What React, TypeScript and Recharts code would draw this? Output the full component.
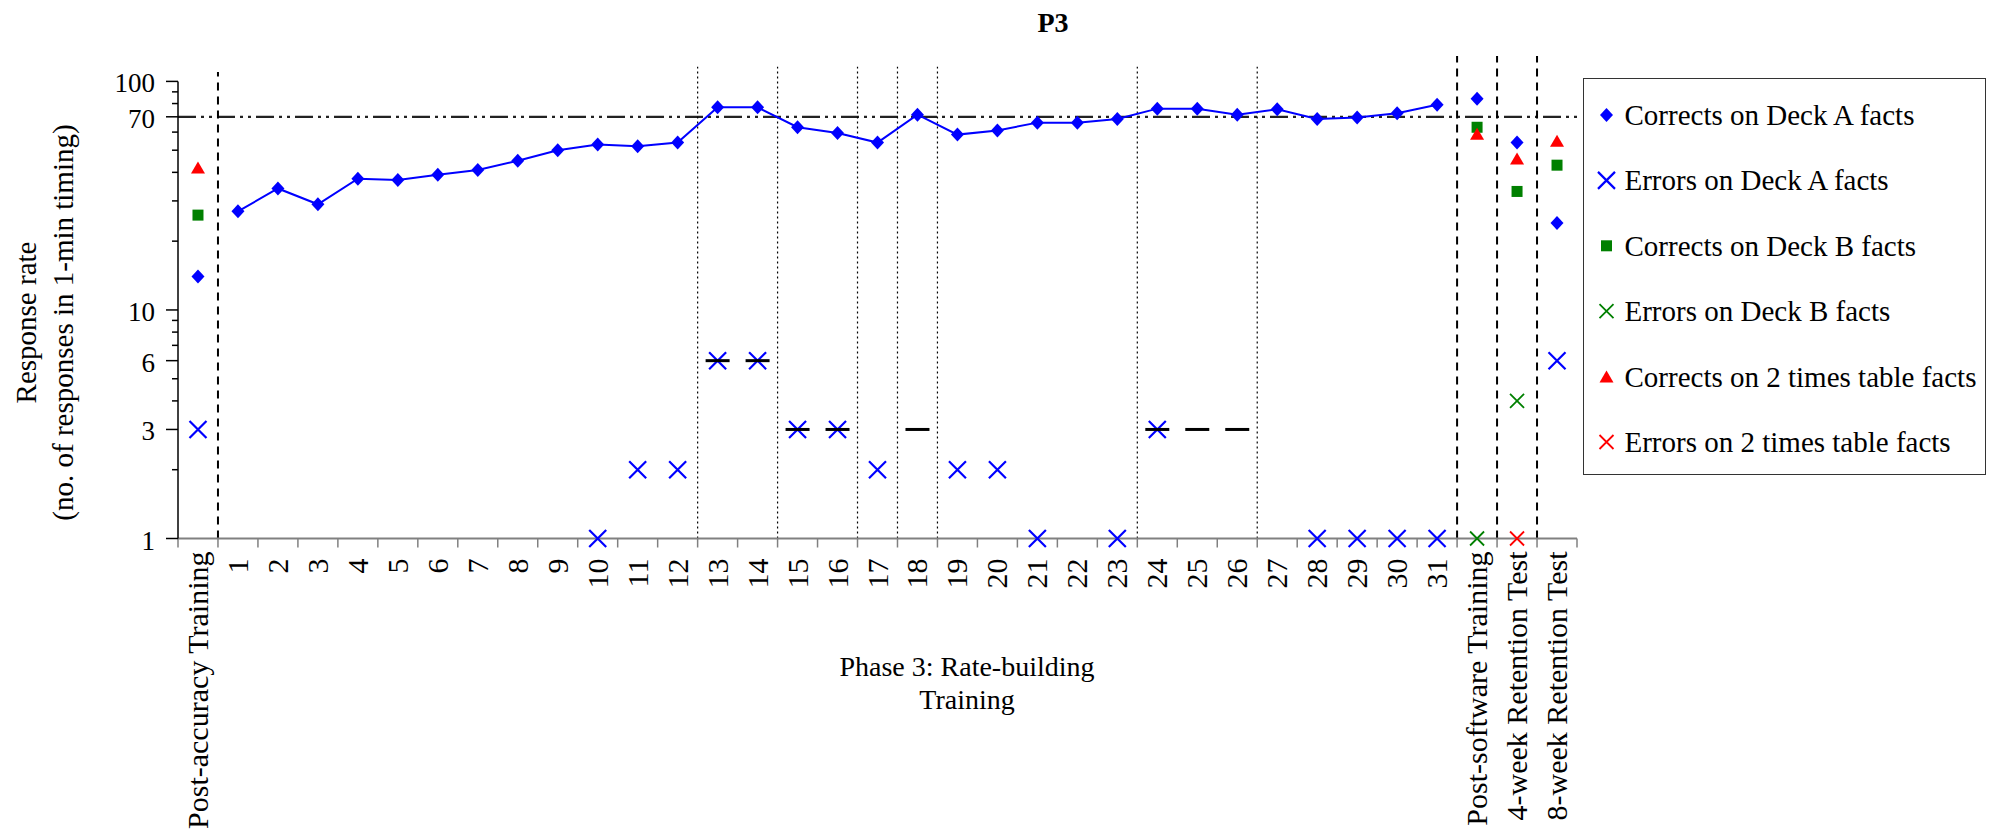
import React from "react";
import { ComposedChart, Line, XAxis, YAxis, ReferenceLine, Legend } from "recharts";

const categories = [
  "Post-accuracy Training",
  "1", "2", "3", "4", "5", "6", "7", "8", "9", "10",
  "11", "12", "13", "14", "15", "16", "17", "18", "19", "20",
  "21", "22", "23", "24", "25", "26", "27", "28", "29", "30", "31",
  "Post-software Training",
  "4-week Retention Test",
  "8-week Retention Test",
];

// one value per category, null where nothing was plotted
const deckACorrects = [
  14, 27, 34, 29, 37.5, 37, 39, 41, 45, 50, 53, 52, 54, 77, 77, 63, 59.5, 54,
  71.5, 58.5, 61, 66, 66, 68.5, 76, 76, 71.5, 75.5, 68.5, 69.5, 72.5, 79, 84, 54, 24,
];
const deckAErrors = [
  3, null, null, null, null, null, null, null, null, null, 1, 2, 2, 6, 6, 3, 3, 2,
  null, 2, 2, 1, null, 1, 3, null, null, null, 1, 1, 1, 1, null, null, 6,
];
const deckBCorrects = [26, ...Array(31).fill(null), 63, 33, 43];
const deckBErrors = [null, ...Array(31).fill(null), 1, 4, null];
const timesCorrects = [42, ...Array(31).fill(null), 59, 46, 55];
const timesErrors = [null, ...Array(31).fill(null), null, 1, null];
const errorDashes = [
  null, null, null, null, null, null, null, null, null, null, null, null, null, 6, 6, 3, 3, null,
  3, null, null, null, null, null, 3, 3, 3, null, null, null, null, null, null, null, null,
];

const yTicks = [1, 2, 3, 4, 5, 6, 7, 8, 9, 10, 20, 30, 40, 50, 60, 70, 80, 90, 100];
const yLabels = [1, 3, 6, 10, 70, 100];
const aimRate = 70;
const phaseBreaks = [1, 32, 33, 34];
const conditionBreaks = [13, 15, 17, 18, 19, 24, 27];

const FONT = "'Liberation Serif', 'Times New Roman', serif";
const BLUE = "#0000FF";
const GREEN = "#008000";
const RED = "#FF0000";

const data = categories.map((c, i) => ({
  x: i + 0.5,
  aLine: i >= 1 && i <= 31 ? deckACorrects[i] : null,
  aPoint: i === 0 || i >= 32 ? deckACorrects[i] : null,
  aErr: deckAErrors[i],
  bCorr: deckBCorrects[i],
  bErr: deckBErrors[i],
  tCorr: timesCorrects[i],
  tErr: timesErrors[i],
  dash: errorDashes[i],
}));

const shapeAt = (kind: string, color: string, cx: number, cy: number, key?: string) => {
  switch (kind) {
    case "diamond":
      return <polygon key={key} points={`${cx},${cy - 7} ${cx + 6.5},${cy} ${cx},${cy + 7} ${cx - 6.5},${cy}`} fill={color} />;
    case "square":
      return <rect key={key} x={cx - 5.5} y={cy - 5.5} width={11} height={11} fill={color} />;
    case "triangle":
      return <polygon key={key} points={`${cx},${cy - 6} ${cx + 7},${cy + 6} ${cx - 7},${cy + 6}`} fill={color} />;
    case "bigX":
      return (
        <path key={key} d={`M${cx - 8.5},${cy - 8.5}L${cx + 8.5},${cy + 8.5}M${cx + 8.5},${cy - 8.5}L${cx - 8.5},${cy + 8.5}`}
          stroke={color} strokeWidth={2.2} fill="none" />
      );
    case "smallX":
      return (
        <path key={key} d={`M${cx - 7},${cy - 7}L${cx + 7},${cy + 7}M${cx + 7},${cy - 7}L${cx - 7},${cy + 7}`}
          stroke={color} strokeWidth={1.8} fill="none" />
      );
    case "dash":
      return <line key={key} x1={cx - 12} x2={cx + 12} y1={cy} y2={cy} stroke="#000" strokeWidth={3} />;
    default:
      return <g key={key} />;
  }
};

const makeDot = (kind: string, color: string) => (props: any) => {
  const { cx, cy, index, value } = props;
  const key = `${kind}-${color}-${index}`;
  if (value == null || cy == null || !isFinite(cy)) return <g key={key} />;
  return shapeAt(kind, color, cx, cy, key);
};

const XTick = (props: any) => {
  const { x, y, payload } = props;
  const k = payload.value;
  if (k >= categories.length) return <g />;
  const label = categories[k];
  const numeric = /^\d+$/.test(label);
  return (
    <text
      transform={`translate(${x + 20 + 10},${y + (numeric ? 9 : 2)}) rotate(-90)`}
      textAnchor="end"
      fontFamily={FONT}
      fontSize={30}
      fill="#000"
    >
      {label}
    </text>
  );
};

const YTick = (props: any) => {
  const { x, y, payload } = props;
  const v = payload.value;
  const major = yLabels.includes(v);
  return (
    <g>
      <line x1={x - (major ? 12 : 6)} x2={x} y1={y} y2={y} stroke="#000" strokeWidth={1.5} />
      {major && (
        <text x={x - 23} y={y + 11} textAnchor="end" fontFamily={FONT} fontSize={27} fill="#000">
          {v}
        </text>
      )}
    </g>
  );
};

const legendItems = [
  { label: "Corrects on Deck A facts", kind: "diamond", color: BLUE },
  { label: "Errors on Deck A facts", kind: "bigX", color: BLUE },
  { label: "Corrects on Deck B facts", kind: "square", color: GREEN },
  { label: "Errors on Deck B facts", kind: "smallX", color: GREEN },
  { label: "Corrects on 2 times table facts", kind: "triangle", color: RED },
  { label: "Errors on 2 times table facts", kind: "smallX", color: RED },
];

const renderLegend = () => (
  <div style={{ width: 403, height: 397, boxSizing: "border-box", border: "1.5px solid #333", background: "#fff" }}>
    <svg width={400} height={394}>
      {legendItems.map((it, i) => {
        const cy = 36 + i * 65.4;
        return (
          <g key={it.label}>
            {shapeAt(it.kind, it.color, 22.5, cy)}
            <text x={40.5} y={cy + 10} fontFamily={FONT} fontSize={29} fill="#000">
              {it.label}
            </text>
          </g>
        );
      })}
    </svg>
  </div>
);

export default function App() {
  return (
    <div style={{ position: "absolute", left: 0, top: 0, width: 2000, height: 839, background: "#fff" }}>
      <div style={{ position: "absolute", left: 953, top: 6, width: 200, textAlign: "center", fontFamily: FONT, fontWeight: "bold", fontSize: 28, lineHeight: "34px" }}>
        P3
      </div>
      <ComposedChart width={2000} height={839} data={data} margin={{ top: 81.4, right: 20, bottom: 10.5, left: 0 }}>
        <XAxis
          dataKey="x"
          type="number"
          domain={[0, categories.length]}
          ticks={categories.map((_, i) => i).concat([categories.length])}
          interval={0}
          height={290}
          tickSize={9}
          tickMargin={2}
          axisLine={{ stroke: "#808080", strokeWidth: 2 }}
          tickLine={{ stroke: "#808080", strokeWidth: 1.5 }}
          tick={<XTick />}
        />
        <YAxis
          type="number"
          scale="log"
          domain={[1, 100]}
          ticks={yTicks}
          interval={0}
          width={178}
          tickSize={0}
          tickMargin={0}
          tickLine={false}
          axisLine={{ stroke: "#000", strokeWidth: 1.5 }}
          tick={<YTick />}
        />
        <ReferenceLine y={aimRate} stroke="#222" strokeWidth={2.2} strokeDasharray="18 5 3 5 3 5" />
        {conditionBreaks.map((b) => (
          <ReferenceLine key={`c${b}`} ifOverflow="visible" segment={[{ x: b, y: 1 }, { x: b, y: 116 }]}
            stroke="#000" strokeWidth={1.2} strokeDasharray="2 3" />
        ))}
        {phaseBreaks.map((b) => (
          <ReferenceLine key={`p${b}`} ifOverflow="visible" segment={[{ x: b, y: 1 }, { x: b, y: b === 1 ? 110 : 129 }]}
            stroke="#000" strokeWidth={2} strokeDasharray="8 6" />
        ))}
        <Line dataKey="aLine" stroke={BLUE} strokeWidth={2} dot={makeDot("diamond", BLUE)} activeDot={false} isAnimationActive={false} />
        <Line dataKey="aPoint" stroke="none" dot={makeDot("diamond", BLUE)} activeDot={false} isAnimationActive={false} />
        <Line dataKey="aErr" stroke="none" dot={makeDot("bigX", BLUE)} activeDot={false} isAnimationActive={false} />
        <Line dataKey="dash" stroke="none" dot={makeDot("dash", "#000")} activeDot={false} isAnimationActive={false} />
        <Line dataKey="bCorr" stroke="none" dot={makeDot("square", GREEN)} activeDot={false} isAnimationActive={false} />
        <Line dataKey="bErr" stroke="none" dot={makeDot("smallX", GREEN)} activeDot={false} isAnimationActive={false} />
        <Line dataKey="tCorr" stroke="none" dot={makeDot("triangle", RED)} activeDot={false} isAnimationActive={false} />
        <Line dataKey="tErr" stroke="none" dot={makeDot("smallX", RED)} activeDot={false} isAnimationActive={false} />
        <Legend
          layout="vertical"
          align="right"
          verticalAlign="top"
          wrapperStyle={{ left: 1583, top: 78, right: "auto", width: 403, height: 397 }}
          content={renderLegend}
        />
      </ComposedChart>
      <div
        style={{
          position: "absolute", left: 44 - 300, top: 322 - 36.5, width: 600, height: 73,
          transform: "rotate(-90deg)", transformOrigin: "center", textAlign: "center",
          fontFamily: FONT, fontSize: 29, lineHeight: "36.5px",
        }}
      >
        Response rate
        <br />
        (no. of responses in 1-min timing)
      </div>
      <div
        style={{
          position: "absolute", left: 967 - 250, top: 649.5, width: 500, textAlign: "center",
          fontFamily: FONT, fontSize: 28, lineHeight: "33px",
        }}
      >
        Phase 3: Rate-building
        <br />
        Training
      </div>
    </div>
  );
}
